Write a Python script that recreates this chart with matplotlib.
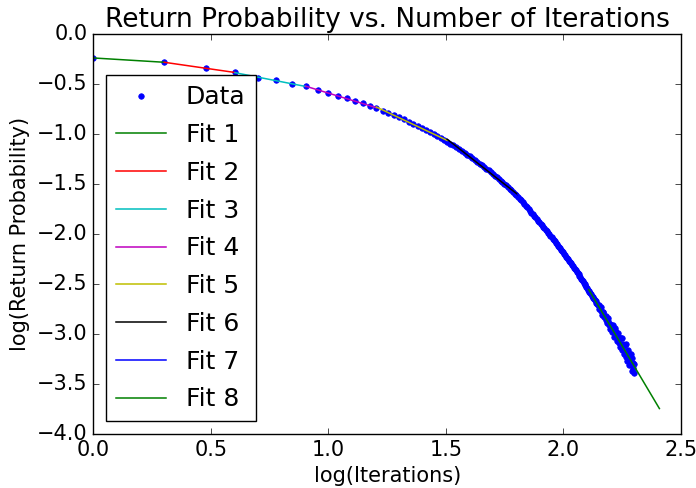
import numpy as np
import matplotlib
matplotlib.use("Agg")
import matplotlib.pyplot as plt

plt.style.use("classic")

# Iteration counts and measured log10 return probability
iterations = np.arange(1, 201)
log_prob = [
    -0.240, -0.283, -0.343, -0.385, -0.437, -0.463, -0.500, -0.525, -0.565, -0.590,
    -0.617, -0.643, -0.667, -0.693, -0.722, -0.745, -0.767, -0.790, -0.812, -0.834,
    -0.855, -0.877, -0.898, -0.919, -0.939, -0.959, -0.979, -0.999, -1.019, -1.038,
    -1.058, -1.077, -1.096, -1.115, -1.133, -1.152, -1.170, -1.189, -1.207, -1.225,
    -1.243, -1.260, -1.278, -1.296, -1.313, -1.330, -1.348, -1.365, -1.382, -1.399,
    -1.416, -1.433, -1.450, -1.466, -1.483, -1.499, -1.515, -1.532, -1.548, -1.564,
    -1.580, -1.596, -1.612, -1.628, -1.646, -1.663, -1.681, -1.699, -1.717, -1.734,
    -1.752, -1.770, -1.786, -1.803, -1.819, -1.835, -1.851, -1.868, -1.884, -1.900,
    -1.915, -1.930, -1.945, -1.960, -1.975, -1.990, -2.005, -2.020, -2.034, -2.048,
    -2.061, -2.075, -2.089, -2.103, -2.116, -2.130, -2.144, -2.158, -2.171, -2.185,
    -2.199, -2.213, -2.226, -2.240, -2.254, -2.268, -2.281, -2.295, -2.309, -2.323,
    -2.336, -2.350, -2.364, -2.378, -2.391, -2.405, -2.419, -2.433, -2.446, -2.460,
    -2.474, -2.488, -2.501, -2.515, -2.529, -2.543, -2.556, -2.570, -2.582, -2.593,
    -2.605, -2.617, -2.628, -2.640, -2.652, -2.663, -2.675, -2.687, -2.698, -2.710,
    -2.711, -2.752, -2.743, -2.734, -2.775, -2.806, -2.777, -2.778, -2.829, -2.820,
    -2.861, -2.822, -2.893, -2.874, -2.845, -2.906, -2.947, -2.898, -2.949, -2.910,
    -2.980, -2.910, -2.980, -3.030, -2.960, -2.940, -3.030, -2.980, -3.070, -3.020,
    -2.990, -3.090, -3.040, -3.130, -3.040, -3.110, -3.040, -3.160, -3.120, -3.100,
    -3.200, -3.110, -3.190, -3.100, -3.230, -3.170, -3.270, -3.160, -3.240, -3.310,
    -3.200, -3.300, -3.200, -3.300, -3.370, -3.240, -3.340, -3.290, -3.390, -3.300,
]

# Fit ranges: dyadic intervals of iteration counts
fit_starts = [1, 2, 4, 8, 16, 32, 64, 128]
fit_ends = [2, 4, 8, 16, 32, 64, 128, 256]
fit_labels = ["Fit 1", "Fit 2", "Fit 3", "Fit 4", "Fit 5", "Fit 6", "Fit 7", "Fit 8"]
fit_colors = ["g", "r", "c", "m", "y", "k", "b", "g"]

x = np.log10(iterations)
y = np.array(log_prob)

fig = plt.figure(figsize=(6.96, 4.88), dpi=100)
ax = fig.add_axes([0.1343, 0.1107, 0.8441, 0.8197])

ax.plot(x, y, "b.", markersize=8, label="Data")
for s, e, lab, col in zip(fit_starts, fit_ends, fit_labels, fit_colors):
    m = (iterations >= s) & (iterations <= e)
    coef = np.polyfit(x[m], y[m], 1)
    xx = np.log10([s, e])
    ax.plot(xx, np.polyval(coef, xx), color=col, linewidth=1.1, label=lab)

ax.set_xlim(0, 2.5)
ax.set_ylim(-4, 0)
ax.set_xticks([0.0, 0.5, 1.0, 1.5, 2.0, 2.5])
ax.set_yticks([-4.0, -3.5, -3.0, -2.5, -2.0, -1.5, -1.0, -0.5, 0.0])
ax.tick_params(labelsize=15)
ax.set_xlabel("log(Iterations)", fontsize=15)
ax.set_ylabel("log(Return Probability)", fontsize=15)
ax.set_title("Return Probability vs. Number of Iterations", fontsize=19)
ax.legend(loc="lower left", numpoints=1, fontsize=18, labelspacing=0.55)

fig.savefig("out.png", dpi=100)
